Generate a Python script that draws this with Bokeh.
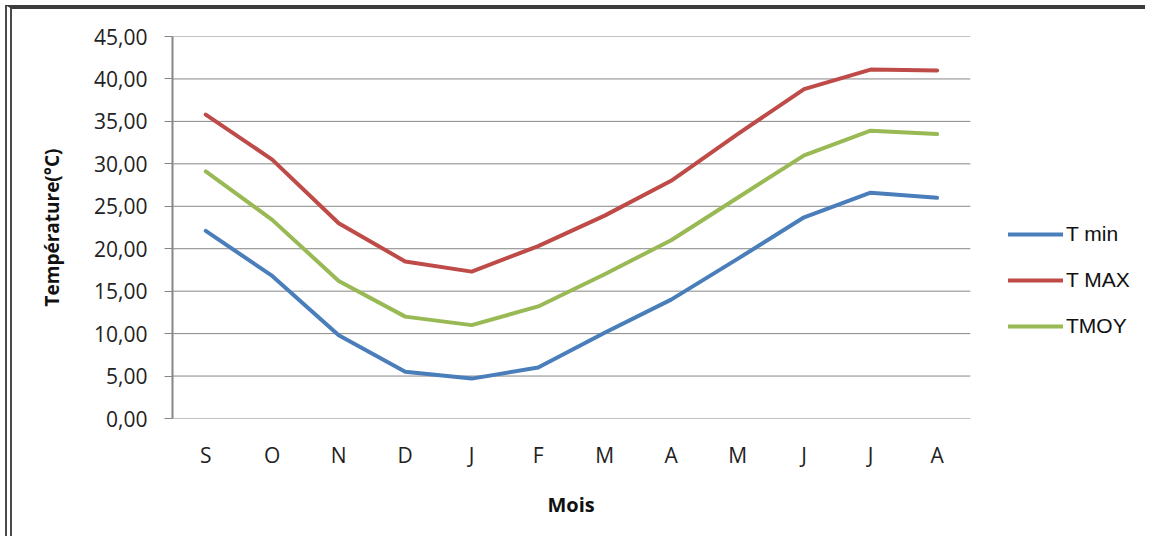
from bokeh.plotting import figure
from bokeh.models import Range1d, FixedTicker, Legend, LegendItem, Title
from bokeh.embed import file_html
from bokeh.resources import INLINE

months = ["S", "O", "N", "D", "J", "F", "M", "A", "M", "J", "J", "A"]
t_min = [22.1, 16.8, 9.8, 5.5, 4.7, 6.0, 10.1, 14.0, 18.8, 23.7, 26.6, 26.0]
t_max = [35.8, 30.5, 23.0, 18.5, 17.3, 20.3, 23.9, 28.0, 33.5, 38.8, 41.1, 41.0]
t_moy = [29.1, 23.4, 16.2, 12.0, 11.0, 13.2, 17.0, 21.0, 26.0, 31.0, 33.9, 33.5]
series_names = ["T min", "T MAX", "TMOY"]
series_colors = ["#4A7EBB", "#BE4B48", "#98B954"]
y_ticks = [0, 5, 10, 15, 20, 25, 30, 35, 40, 45]
y_tick_labels = ["0,00", "5,00", "10,00", "15,00", "20,00", "25,00",
                 "30,00", "35,00", "40,00", "45,00"]
x_label = "Mois"
y_label = "Température(°C)"

xs = list(range(len(months)))
n = len(months)

# plot frame extended to the right so that the legend area lies inside it
p = figure(width=1140, height=531, output_backend="svg", toolbar_location=None,
           x_range=Range1d(-0.5, 14.24), y_range=Range1d(0, 45),
           min_border_left=160, min_border_right=0, min_border_top=27,
           min_border_bottom=122)
p.styles = {"margin-top": "5px", "margin-left": "5px",
            "border-top": "4px solid #3c3c3c", "border-left": "7px double #4a4a4a"}
p.outline_line_color = None
p.background_fill_color = "white"
p.border_fill_color = "white"

grid_col = "#868686"
font = "Open Sans"

# horizontal grid lines limited to the category span
p.segment(x0=[-0.5] * len(y_ticks), x1=[n - 0.5] * len(y_ticks), y0=y_ticks, y1=y_ticks,
          line_color=grid_col, line_width=1)

renderers = []
for vals, col in zip([t_min, t_max, t_moy], series_colors):
    r = p.line(xs, vals, line_color=col, line_width=4, line_join="round", line_cap="round")
    renderers.append(r)

# x axis
p.xaxis.ticker = FixedTicker(ticks=xs)
p.xaxis.major_label_overrides = {i: m for i, m in enumerate(months)}
p.xaxis.major_tick_line_color = None
p.xaxis.minor_tick_line_color = None
p.xaxis.axis_line_color = None
p.xaxis.major_label_standoff = 16
p.xaxis.major_label_text_font = font
p.xaxis.major_label_text_font_size = "21px"
p.xaxis.major_label_text_color = "#222222"
p.xgrid.grid_line_color = None
p.ygrid.grid_line_color = None

mois = Title(text=x_label, align="left", offset=375, standoff=34,
             text_font=font, text_font_size="20px", text_font_style="bold",
             text_color="#111111")
p.add_layout(mois, "below")

# y axis
p.yaxis.ticker = FixedTicker(ticks=y_ticks)
p.yaxis.major_label_overrides = {t: l for t, l in zip(y_ticks, y_tick_labels)}
p.yaxis.major_tick_in = 0
p.yaxis.major_tick_out = 8
p.yaxis.major_tick_line_color = grid_col
p.yaxis.minor_tick_line_color = None
p.yaxis.axis_line_color = grid_col
p.yaxis.axis_line_width = 2
p.yaxis.major_label_standoff = 17
p.yaxis.major_label_text_font = font
p.yaxis.major_label_text_font_size = "21px"
p.yaxis.major_label_text_color = "#222222"
p.yaxis.axis_label = y_label
p.yaxis.axis_label_text_font = font
p.yaxis.axis_label_text_font_size = "19px"
p.yaxis.axis_label_text_font_style = "bold"
p.yaxis.axis_label_text_color = "#111111"
p.yaxis.axis_label_standoff = 26

legend = Legend(items=[LegendItem(label=nm, renderers=[r]) for nm, r in zip(series_names, renderers)],
                location=(836, 80), orientation="vertical",
                background_fill_alpha=0, border_line_color=None,
                padding=0, margin=0, spacing=22, label_height=20, glyph_height=20,
                glyph_width=55, label_standoff=3,
                label_text_font="Liberation Sans", label_text_font_size="21px",
                label_text_color="#111111")
p.add_layout(legend)

open("out.html", "w").write(file_html(p, INLINE))
